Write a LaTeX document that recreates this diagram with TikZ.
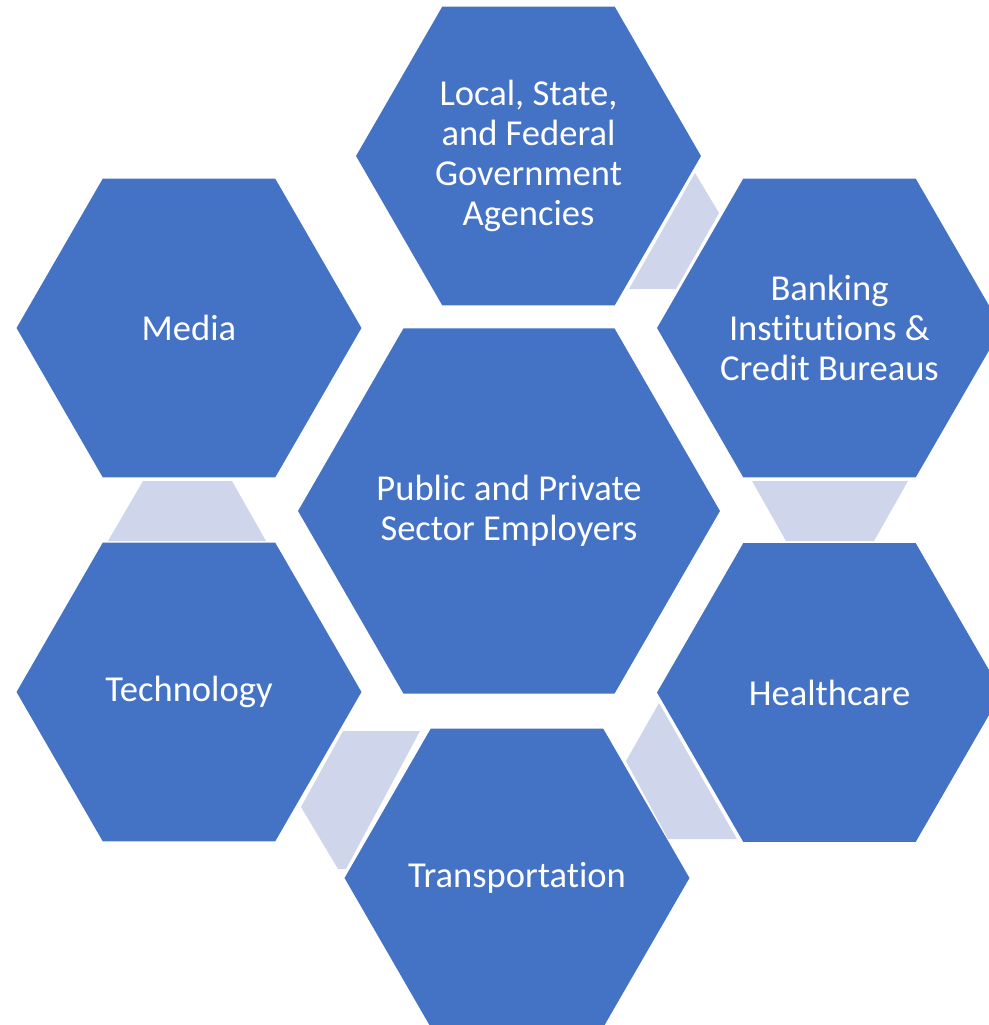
\documentclass[tikz,border=0pt]{standalone}
\usepackage{fontspec}
\setmainfont{Carlito}[Ligatures=NoCommon]
\usetikzlibrary{shapes.geometric}
\definecolor{hexblue}{HTML}{4472C4}
\definecolor{hexlight}{HTML}{CFD5EA}

\begin{document}
\begin{tikzpicture}[x=0.02cm,y=-0.02cm,
  hexa/.style={regular polygon,regular polygon sides=6,fill=hexblue,draw=none,
    inner sep=0pt,outer sep=0pt,minimum size=6.9cm,
    label={[hextext]center:#1}},
  bighexa/.style={hexa=#1,minimum size=8.44cm},
  hextext/.style={text=white,align=center,inner sep=0pt,
    font=\fontsize{20.8}{22.8}\selectfont},
  link/.style={fill=hexlight}]
% page = 989 x 1025 px, y runs downwards
\useasboundingbox (0,0) rectangle (989,1025);
% light joints between neighbouring hexagons
\fill[link] (695,173) -- (719,213) -- (676,289) -- (629,289) -- cycle;
\fill[link] (752,481) -- (908,481) -- (874,541) -- (786,541) -- cycle;
\fill[link] (659,703) -- (737,839) -- (668,839) -- (626,761) -- cycle;
\fill[link] (343,731) -- (420,731) -- (346,869) -- (338,869) -- (301,807) -- cycle;
\fill[link] (143,481) -- (232,481) -- (266,541) -- (108,541) -- cycle;
% hexagons, text set as centred labels so it does not widen them
\node[bighexa={Public and Private\\Sector Employers}] (emp) at (509,511) {};
\node[hexa={Local, State,\\and Federal\\Government\\Agencies}] (gov) at (528.5,156) {};
\node[hexa={Banking\\Institutions \&\\Credit Bureaus}] (bank) at (829.5,328) {};
\node[hexa=Healthcare] (health) at (829.5,692.5) {};
\node[hexa=Transportation] (trans) at (517,878) {};
\node[hexa=Technology] (tech) at (189,692) {};
\node[hexa=Media] (media) at (189,328) {};
\end{tikzpicture}
\end{document}
